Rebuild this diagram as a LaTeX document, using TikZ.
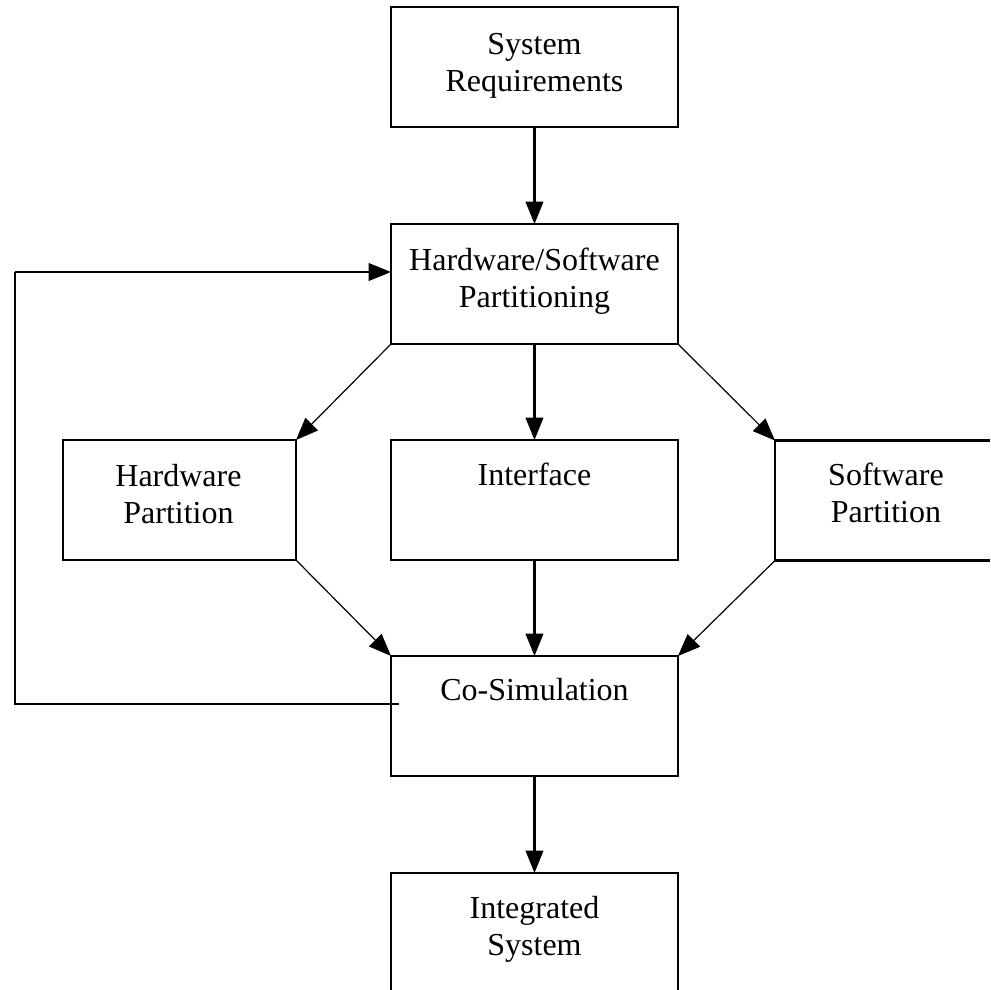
\documentclass[tikz,border=0pt]{standalone}
\usepackage{fontspec}
\setmainfont{Liberation Serif}
\usetikzlibrary{arrows.meta,calc}

\begin{document}
\begin{tikzpicture}[
  x=0.25pt, y=-0.25pt,
  box/.style={draw, line width=0.55pt, rectangle, inner sep=0pt, outer sep=0pt,
    minimum width=71.75pt, minimum height=30pt},
  lbl/.style={align=center, inner sep=0pt, anchor=base,
    font=\fontsize{8}{9.25}\selectfont},
  arr/.style={line width=0.55pt, -{Triangle[length=5.6pt, width=4.4pt]}},
  diag/.style={line width=0.3pt, -{Triangle[length=5.6pt, width=4.4pt]}},
  feed/.style={line width=0.55pt}
]
\useasboundingbox (0,0) rectangle (990,990);
\clip (0,0) rectangle (990,990);

% process boxes
\node[box] (req)   at (534.5,67)    {};
\node[box] (hwsw)  at (534.5,284)   {};
\node[box, minimum width=58.25pt] (hwp) at (179.5,500) {};
\node[box] (intf)  at (534.5,500)   {};
\node[box, minimum width=55.5pt]  (swp) at (886,500.5) {};
\node[box] (cosim) at (534.5,716)   {};
\node[box] (integ) at (534.5,933)   {};

% box captions (anchored at the baseline of their last line)
\node[lbl] (reqT)   at ($(req.north)+(0,84)$)   {System\\Requirements};
\node[lbl] (hwswT)  at ($(hwsw.north)+(0,83)$)  {Hardware/Software\\Partitioning};
\node[lbl] (hwpT)   at ($(hwp.north)+(-1,83)$)  {Hardware\\Partition};
\node[lbl] (intfT)  at ($(intf.north)+(0,45)$)  {Interface};
\node[lbl] (swpT)   at ($(swp.north)+(0,82)$)   {Software\\Partition};
\node[lbl] (cosimT) at ($(cosim.north)+(0,44)$) {Co-Simulation};
\node[lbl] (integT) at ($(integ.north)+(0,82)$) {Integrated\\System};

% main flow
\draw[arr] (req.south) -- (hwsw.north);
\draw[arr] (hwsw.south) -- (intf.north);
\draw[arr] (intf.south) -- (cosim.north);
\draw[arr] (cosim.south) -- (integ.north);

% split into partitions and merge into co-simulation
\draw[diag] (hwsw.south west) -- (hwp.north east);
\draw[diag] (hwsw.south east) -- (swp.north west);
\draw[diag] (hwp.south east) -- (cosim.north west);
\draw[diag] (swp.south west) -- (cosim.north east);

% feedback loop from co-simulation back to partitioning
\coordinate (fbOut) at ($(cosim.north west)+(8,48)$);
\coordinate (fbIn)  at ($(hwsw.north west)+(0,48)$);
\coordinate (fbLow) at (15,704);
\coordinate (fbTop) at (15,272);
\draw[feed] (fbOut) -- (fbLow) -- (fbTop);
\draw[arr] (fbTop) -- (fbIn);
\end{tikzpicture}
\end{document}
